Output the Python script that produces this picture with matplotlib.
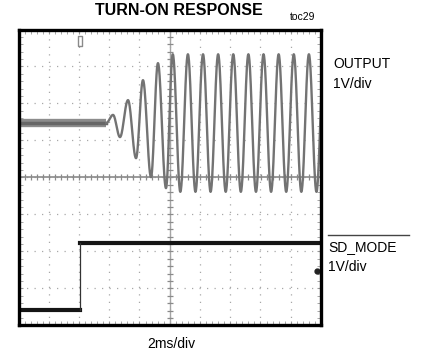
import numpy as np
import matplotlib
matplotlib.use("Agg")
import matplotlib.pyplot as plt
from matplotlib import font_manager
from matplotlib.lines import Line2D

# Scope capture: time in ms (2ms/div, 10 div), levels in divisions (1V/div, 8 div)
OUT_LEVEL = 1.47          # output idle level before the tone starts
OUT_START = -4.2          # ms where the output begins to swing
# alternating peaks / troughs of the output trace
OUT_EXT_T = [-3.75, -3.29, -2.76, -2.23, -1.77, -1.24, -0.78, -0.25,
             0.2, 0.7, 1.2, 1.7, 2.2, 2.7, 3.2, 3.7, 4.2, 4.7,
             5.2, 5.7, 6.2, 6.7, 7.2, 7.7, 8.2, 8.7, 9.2, 9.7, 10.2]
OUT_EXT_V = [1.69, 1.09, 2.09, 0.52, 2.63, 0.01, 3.09, -0.29,
             3.33, -0.39, 3.33, -0.39, 3.33, -0.39, 3.33, -0.39, 3.33, -0.39,
             3.33, -0.39, 3.33, -0.39, 3.33, -0.39, 3.33, -0.39, 3.33, -0.39, 3.33]

SD_LOW = -3.58            # SD_MODE before enable
SD_HIGH = -1.77           # SD_MODE after enable
SD_STEP_T = -5.95         # ms, SD_MODE rising edge (trigger point)
SD_GND_V = -2.52          # channel 2 reference marker


def pick_font(*names):
    for name in names:
        try:
            font_manager.findfont(name, fallback_to_default=False)
            return name
        except ValueError:
            pass
    return "DejaVu Sans"


SANS = pick_font("Liberation Sans", "Arial")
NARROW = pick_font("Liberation Sans Narrow", SANS)
label_size = 12 if NARROW != SANS else 10

W, H = 422, 358
fig = plt.figure(figsize=(W / 100, H / 100), dpi=100)
ax = fig.add_axes([18.5 / W, 1 - 325.3 / H, 302.5 / W, 295.8 / H])
ax.set_xlim(-10, 10)
ax.set_ylim(-4, 4)

# graticule
ax.set_xticks(np.arange(-10, 11, 2))
ax.set_yticks(np.arange(-4, 5, 1))
ax.set_xticks(np.arange(-10, 10.01, 0.4), minor=True)
ax.set_yticks(np.arange(-4, 4.01, 0.2), minor=True)
ax.tick_params(which="both", direction="in", length=3, color="#999999",
               top=True, right=True, labelbottom=False, labelleft=False)
ax.grid(True, which="major", color="#a8a8a8", lw=0.9, linestyle=(0, (1, 5)))
ax.axhline(0, color="#8a8a8a", lw=1.2)
ax.axvline(0, color="#a5a5a5", lw=1.0)
cx = np.arange(-10, 10.01, 0.4)
cy = np.arange(-4, 4.01, 0.2)
ax.plot(cx, np.zeros_like(cx), "|", color="#8a8a8a", ms=5, mew=0.9)
ax.plot(np.zeros_like(cy), cy, "_", color="#8a8a8a", ms=5, mew=0.9)
for s in ax.spines.values():
    s.set_linewidth(2.4)
    s.set_color("black")
    s.set_zorder(5)

# output: idle band then growing tone, half-cosine between extrema
ax.plot([-10, OUT_START], [OUT_LEVEL, OUT_LEVEL], color="#8c8c8c", lw=6,
        solid_capstyle="butt")
ax.plot([-10, OUT_START], [OUT_LEVEL, OUT_LEVEL], color="#666666", lw=2.5)
pts_t = [OUT_START] + OUT_EXT_T
pts_v = [OUT_LEVEL] + OUT_EXT_V
tt, vv = [], []
for i in range(len(pts_t) - 1):
    s = np.linspace(0, 1, 30)
    tt.extend(pts_t[i] + (pts_t[i + 1] - pts_t[i]) * s)
    vv.extend(pts_v[i] + (pts_v[i + 1] - pts_v[i]) * (1 - np.cos(np.pi * s)) / 2)
ax.plot(tt, vv, color="#737373", lw=1.7)

# SD_MODE step
ax.plot([-10, SD_STEP_T], [SD_LOW, SD_LOW], color="#151515", lw=3)
ax.plot([SD_STEP_T, 10], [SD_HIGH, SD_HIGH], color="#151515", lw=3)
ax.plot([SD_STEP_T, SD_STEP_T], [SD_LOW, SD_HIGH], color="#333333", lw=0.9)

# trigger position and channel reference markers
ax.plot(SD_STEP_T, 3.7, marker=[(-0.5, -1), (0.5, -1), (0.5, 1), (-0.5, 1), (-0.5, -1)],
        ms=7, mfc="white", mec="#8a8a8a", mew=1.0)
ax.plot(9.75, SD_GND_V, marker="o", ms=3.5, color="#222222", zorder=4)


def fy(y):
    return 1 - y / H


fig.text(178.5 / W, fy(15), "TURN-ON RESPONSE", ha="center", va="baseline",
         fontsize=11.5, fontweight="bold", family=SANS)
fig.text(290 / W, fy(20), "toc29", ha="left", va="baseline", fontsize=7.5, family=SANS)
fig.text(333 / W, fy(67.7), "OUTPUT", ha="left", va="baseline",
         fontsize=label_size, family=NARROW)
fig.text(333 / W, fy(88), "1V/div", ha="left", va="baseline",
         fontsize=label_size, family=NARROW)
fig.text(328 / W, fy(251), "SD_MODE", ha="left", va="baseline",
         fontsize=label_size, family=NARROW)
fig.text(328 / W, fy(271), "1V/div", ha="left", va="baseline",
         fontsize=label_size, family=NARROW)
fig.add_artist(Line2D([328 / W, 409 / W], [fy(235), fy(235)], color="#444444", lw=1.0))
fig.text(171 / W, fy(348), "2ms/div", ha="center", va="baseline", fontsize=10, family=SANS)

fig.savefig("out.png", dpi=100, facecolor="white")
